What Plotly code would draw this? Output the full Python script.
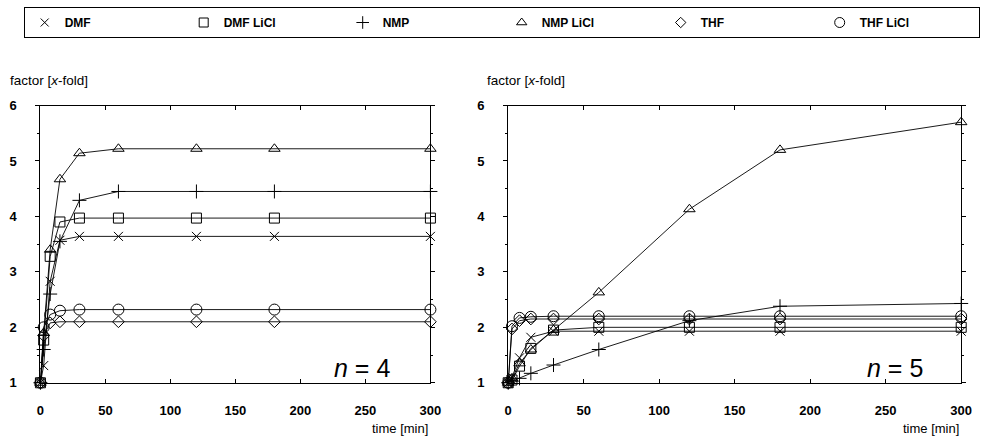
import plotly.graph_objects as go

# ---------------- data ----------------
times = [0, 2.5, 7.5, 15, 30, 60, 120, 180, 300]
series_names = ["DMF", "DMF LiCl", "NMP", "NMP LiCl", "THF", "THF LiCl"]

# n = 4 (left panel)
n4_dmf      = [1.0, 1.31, 2.83, 3.57, 3.64, 3.64, 3.64, 3.64, 3.64]
n4_dmf_licl = [1.0, 1.77, 3.28, 3.90, 3.97, 3.97, 3.97, 3.97, 3.97]
n4_nmp      = [1.0, 1.60, 2.60, 3.55, 4.29, 4.45, 4.45, 4.45, 4.45]
n4_nmp_licl = [1.0, 1.90, 3.40, 4.67, 5.14, 5.22, 5.22, 5.22, 5.22]
n4_thf      = [1.0, 1.85, 2.08, 2.10, 2.10, 2.10, 2.10, 2.10, 2.10]
n4_thf_licl = [1.0, 2.00, 2.23, 2.30, 2.32, 2.32, 2.32, 2.32, 2.32]

# n = 5 (right panel)
n5_dmf      = [1.0, 1.10, 1.45, 1.82, 1.93, 1.93, 1.93, 1.93, 1.93]
n5_dmf_licl = [1.0, 1.05, 1.30, 1.62, 1.95, 2.00, 2.00, 2.00, 2.00]
n5_nmp      = [1.0, 1.03, 1.08, 1.17, 1.32, 1.60, 2.12, 2.38, 2.43]
n5_nmp_licl = [1.0, 1.08, 1.35, 1.60, 1.95, 2.63, 4.13, 5.20, 5.70]
n5_thf      = [1.0, 1.97, 2.12, 2.15, 2.15, 2.15, 2.15, 2.15, 2.15]
n5_thf_licl = [1.0, 2.02, 2.17, 2.19, 2.20, 2.20, 2.20, 2.20, 2.20]

x_ticks = [0, 50, 100, 150, 200, 250, 300]
y_ticks = [1, 2, 3, 4, 5, 6]

symbols = ["x-thin-open", "square-open", "cross-thin-open",
           "triangle-up-open", "diamond-open", "circle-open"]
sizes = [9, 10, 10, 10, 9, 11]

n4 = [n4_dmf, n4_dmf_licl, n4_nmp, n4_nmp_licl, n4_thf, n4_thf_licl]
n5 = [n5_dmf, n5_dmf_licl, n5_nmp, n5_nmp_licl, n5_thf, n5_thf_licl]

fig = go.Figure()

for panel, (data, xa, ya) in enumerate([(n4, "x", "y"), (n5, "x2", "y2")]):
    for name, vals, sym, sz in zip(series_names, data, symbols, sizes):
        fig.add_trace(go.Scatter(
            x=times, y=vals, mode="lines+markers", name=name,
            xaxis=xa, yaxis=ya, showlegend=False, cliponaxis=False,
            line=dict(color="black", width=0.9),
            marker=dict(symbol=sym, size=sz, color="black",
                        line=dict(color="black", width=1)),
        ))

# legend-only traces (markers only)
for name, sym, sz in zip(series_names, symbols, sizes):
    fig.add_trace(go.Scatter(
        x=[None], y=[None], mode="markers", name=name, showlegend=True,
        marker=dict(symbol=sym, size=sz - 1, color="black",
                    line=dict(color="black", width=1)),
    ))

tickfont = dict(family="Liberation Sans", size=13, color="black", weight="bold")

def xax(domain, anchor):
    return dict(domain=domain, anchor=anchor, range=[0, 300],
                tickvals=x_ticks, ticktext=[str(v) for v in x_ticks],
                showgrid=False, zeroline=False, showline=True,
                linecolor="black", linewidth=1, mirror="ticks",
                ticks="inside", ticklen=4, tickcolor="black",
                tickfont=tickfont, ticklabelstandoff=16)

def yax(domain, anchor):
    return dict(domain=domain, anchor=anchor, range=[1, 6],
                tickvals=y_ticks, ticktext=[str(v) for v in y_ticks],
                showgrid=False, zeroline=False, showline=True,
                linecolor="black", linewidth=1, mirror="ticks",
                ticks="outside", ticklen=4, tickcolor="black",
                minor=dict(ticks="outside", ticklen=2, dtick=0.5,
                           tickcolor="black", showgrid=False),
                tickfont=tickfont, ticklabelstandoff=16)

ydom = [1 - 389 / 441, 1 - 102 / 441]
fig.update_layout(
    width=985, height=441, autosize=False,
    margin=dict(l=0, r=0, t=0, b=0),
    paper_bgcolor="white", plot_bgcolor="white",
    xaxis=xax([37 / 985, 433 / 985], "y"),
    yaxis=yax(ydom, "x"),
    xaxis2=xax([512 / 985, 972 / 985], "y2"),
    yaxis2=yax(ydom, "x2"),
    legend=dict(
        orientation="h", x=20 / 985, y=1.0,
        xanchor="left", yanchor="top",
        bordercolor="black", borderwidth=1, bgcolor="white",
        entrywidth=114, itemwidth=30,
        font=dict(family="Liberation Sans", size=12, color="black", weight="bold"),
    ),
)

annots = [
    dict(x=433 / 985, y=0, text="time [min]", xanchor="right", yanchor="bottom",
         size=13, yshift=-5),
    dict(x=972 / 985, y=0, text="time [min]", xanchor="right", yanchor="bottom",
         size=13, yshift=-5),
    dict(x=4 / 985, y=1 - 76 / 441, text="factor [<i>x</i>-fold]", xanchor="left",
         yanchor="middle", size=13.5),
    dict(x=488 / 985, y=1 - 76 / 441, text="factor [<i>x</i>-fold]", xanchor="left",
         yanchor="middle", size=13.5),
]
for a in annots:
    sz = a.pop("size")
    fig.add_annotation(xref="paper", yref="paper", showarrow=False,
                       font=dict(family="Liberation Sans", size=sz, color="black"),
                       **a)

nfont = dict(family="Liberation Sans", size=25, color="black")
fig.add_annotation(xref="paper", yref="paper", x=394 / 985, y=1 - 374 / 441,
                   xanchor="right", yanchor="middle", showarrow=False,
                   text="<i>n</i> = 4", font=nfont)
fig.add_annotation(xref="paper", yref="paper", x=935 / 985, y=1 - 374 / 441,
                   xanchor="right", yanchor="middle", showarrow=False,
                   text="<i>n</i> = 5", font=nfont)

fig.write_html("out.html")
